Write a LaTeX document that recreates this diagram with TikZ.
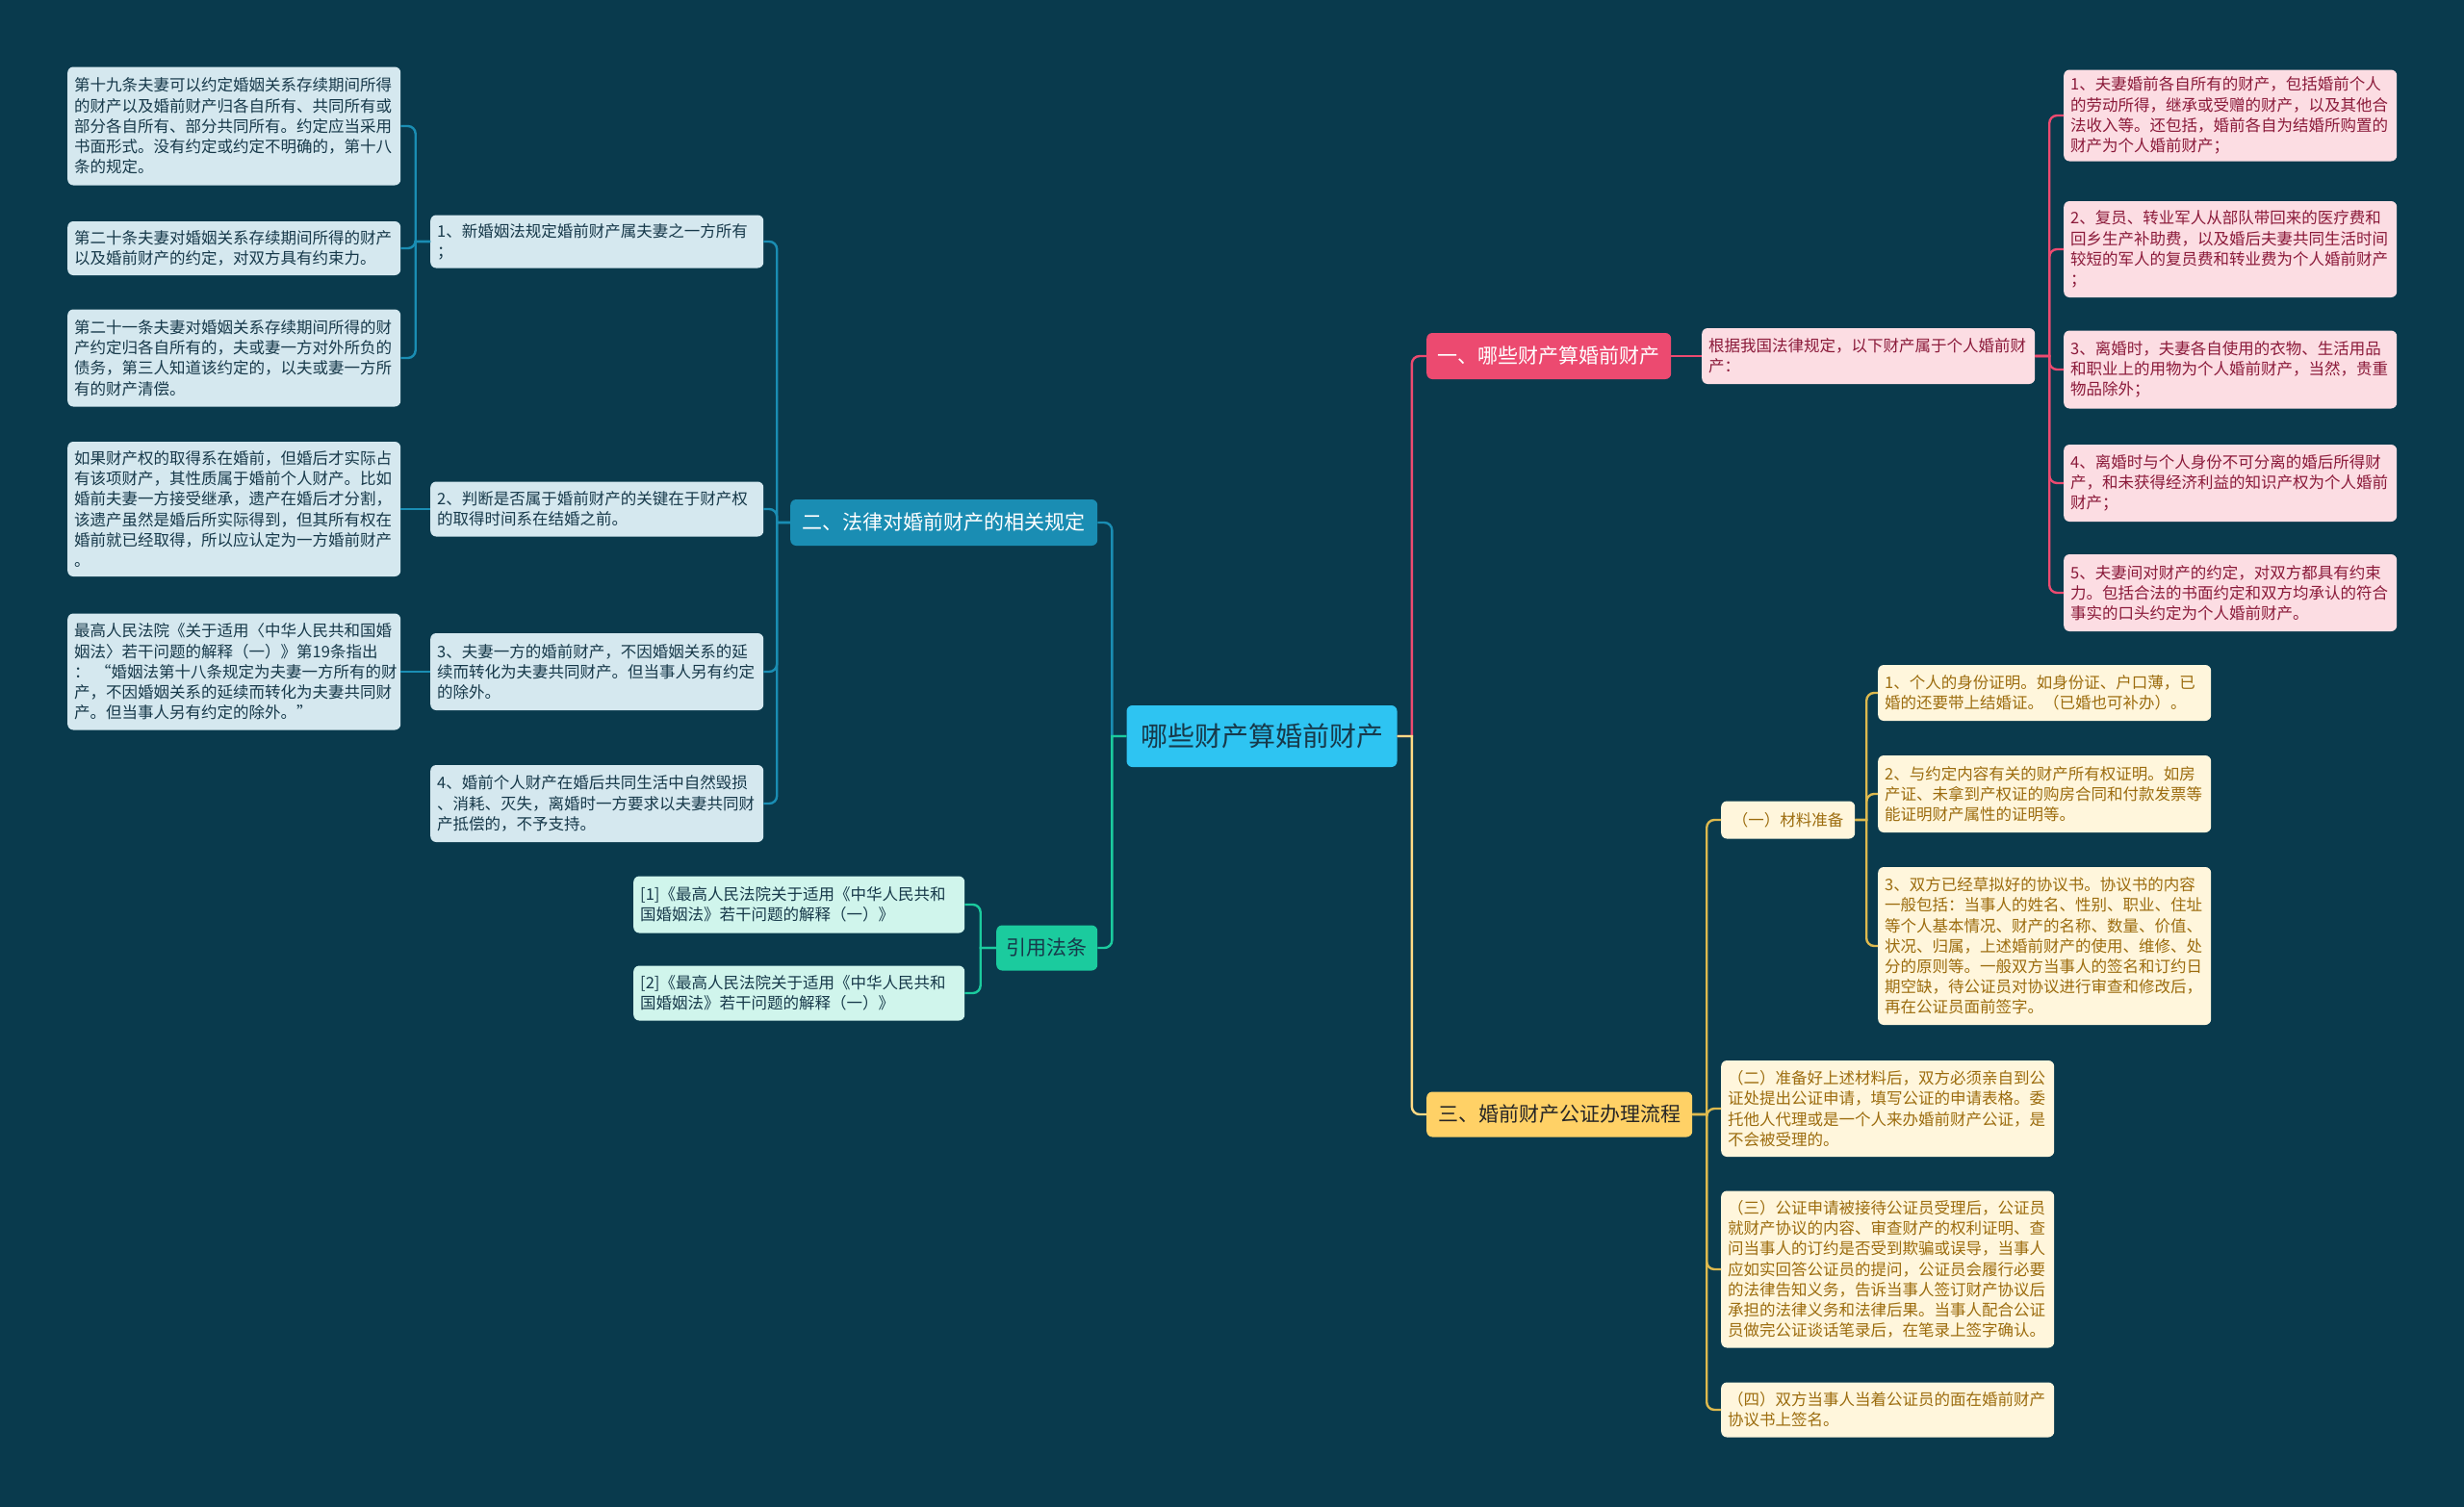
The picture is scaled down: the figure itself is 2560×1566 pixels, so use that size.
\documentclass[tikz,border=0pt]{standalone}
\usepackage{fontspec}
\newfontfamily\cjk{Noto Sans CJK SC}
\usetikzlibrary{calc}

\definecolor{bgcol}{HTML}{093A4D}
\definecolor{rootcol}{HTML}{2EC4F2}
\definecolor{redcol}{HTML}{EC4A70}
\definecolor{pinkcol}{HTML}{FCDDE3}
\definecolor{pinktext}{HTML}{8B1A3A}
\definecolor{bluecol}{HTML}{1A8DB3}
\definecolor{paleblue}{HTML}{D5E8EF}
\definecolor{darktext}{HTML}{17394A}
\definecolor{tealcol}{HTML}{1BCB9E}
\definecolor{mintcol}{HTML}{D0F5EC}
\definecolor{yellowcol}{HTML}{FFD166}
\definecolor{creamcol}{HTML}{FFF6DC}
\definecolor{goldtext}{HTML}{9C6C0E}
\definecolor{goldline}{HTML}{DDB94E}

\begin{document}
\begin{tikzpicture}[x=1pt, y=-1pt,
  box/.style={rounded corners=6pt, inner xsep=7pt, inner ysep=3pt, anchor=west,
    align=left, text width=332pt, font={\cjk\fontsize{16.5}{21.2}\selectfont}},
  pinkbox/.style={box, fill=pinkcol, text=pinktext},
  bluebox/.style={box, fill=paleblue, text=darktext},
  mintbox/.style={box, fill=mintcol, text=darktext},
  creambox/.style={box, fill=creamcol, text=goldtext},
  branch/.style={rounded corners=6pt, anchor=west, minimum height=48pt,
    font={\cjk\fontsize{21}{25}\selectfont}},
  conn/.style={line width=2.4pt},
  elbow/.style={to path={-| ($(\tikztostart)!.5!(\tikztotarget)$)
    [rounded corners=8pt] |- (\tikztotarget)}}]

% Background
\fill[bgcol] (0,0) rectangle (2560,1566);
\useasboundingbox (0,0) rectangle (2560,1566);

% Root
\node[rounded corners=6pt, fill=rootcol, text=darktext, minimum width=281pt, minimum height=64pt,
  font={\cjk\fontsize{28}{32}\selectfont}] (root) at (1311,765) {哪些财产算婚前财产};

% Branch one
\node[branch, fill=redcol, text=white, minimum width=254pt] (b1) at (1482,370) {一、哪些财产算婚前财产};
\node[pinkbox, minimum height=58pt] (law) at (1768,370) {根据我国法律规定，以下财产属于个人婚前财\\产：};
\node[pinkbox, minimum height=95pt] (p1) at (2144,120) {1、夫妻婚前各自所有的财产，包括婚前个人\\的劳动所得，继承或受赠的财产，以及其他合\\法收入等。还包括，婚前各自为结婚所购置的\\财产为个人婚前财产；};
\node[pinkbox, minimum height=100pt] (p2) at (2144,259) {2、复员、转业军人从部队带回来的医疗费和\\回乡生产补助费，以及婚后夫妻共同生活时间\\较短的军人的复员费和转业费为个人婚前财产\\；};
\node[pinkbox, minimum height=81pt] (p3) at (2144,384) {3、离婚时，夫妻各自使用的衣物、生活用品\\和职业上的用物为个人婚前财产，当然，贵重\\物品除外；};
\node[pinkbox, minimum height=80pt] (p4) at (2144,502) {4、离婚时与个人身份不可分离的婚后所得财\\产，和未获得经济利益的知识产权为个人婚前\\财产；};
\node[pinkbox, minimum height=80pt] (p5) at (2144,616) {5、夫妻间对财产的约定，对双方都具有约束\\力。包括合法的书面约定和双方均承认的符合\\事实的口头约定为个人婚前财产。};

% Branch three
\node[branch, fill=yellowcol, text=black!85, minimum width=276pt, minimum height=47pt] (b3) at (1482,1158) {三、婚前财产公证办理流程};
\node[rounded corners=6pt, anchor=west, fill=creamcol, text=goldtext, minimum width=139pt, minimum height=39pt,
  font={\cjk\fontsize{16.5}{21.2}\selectfont}] (prep) at (1788,852) {（一）材料准备};
\node[creambox, minimum height=58pt] (m1) at (1951,720) {1、个人的身份证明。如身份证、户口薄，已\\婚的还要带上结婚证。（已婚也可补办）。};
\node[creambox, minimum height=80pt] (m2) at (1951,825) {2、与约定内容有关的财产所有权证明。如房\\产证、未拿到产权证的购房合同和付款发票等\\能证明财产属性的证明等。};
\node[creambox, minimum height=164pt] (m3) at (1951,983) {3、双方已经草拟好的协议书。协议书的内容\\一般包括：当事人的姓名、性别、职业、住址\\等个人基本情况、财产的名称、数量、价值、\\状况、归属，上述婚前财产的使用、维修、处\\分的原则等。一般双方当事人的签名和订约日\\期空缺，待公证员对协议进行审查和修改后，\\再在公证员面前签字。};
\node[creambox, minimum height=100pt] (s2) at (1788,1152) {（二）准备好上述材料后，双方必须亲自到公\\证处提出公证申请，填写公证的申请表格。委\\托他人代理或是一个人来办婚前财产公证，是\\不会被受理的。};
\node[creambox, minimum height=163pt] (s3) at (1788,1319) {（三）公证申请被接待公证员受理后，公证员\\就财产协议的内容、审查财产的权利证明、查\\问当事人的订约是否受到欺骗或误导，当事人\\应如实回答公证员的提问，公证员会履行必要\\的法律告知义务，告诉当事人签订财产协议后\\承担的法律义务和法律后果。当事人配合公证\\员做完公证谈话笔录后，在笔录上签字确认。};
\node[creambox, minimum height=57pt] (s4) at (1788,1465) {（四）双方当事人当着公证员的面在婚前财产\\协议书上签名。};

% Branch two
\node[branch, fill=bluecol, text=white, minimum width=319pt] (b2) at (821,543) {二、法律对婚前财产的相关规定};
\node[bluebox, minimum height=55pt] (c1) at (447,251) {1、新婚姻法规定婚前财产属夫妻之一方所有\\；};
\node[bluebox, minimum height=57pt] (c2) at (447,529) {2、判断是否属于婚前财产的关键在于财产权\\的取得时间系在结婚之前。};
\node[bluebox, minimum height=80pt] (c3) at (447,698) {3、夫妻一方的婚前财产，不因婚姻关系的延\\续而转化为夫妻共同财产。但当事人另有约定\\的除外。};
\node[bluebox, minimum height=80pt] (c4) at (447,835) {4、婚前个人财产在婚后共同生活中自然毁损\\、消耗、灭失，离婚时一方要求以夫妻共同财\\产抵偿的，不予支持。};
\node[bluebox, minimum height=123pt] (a1) at (70,131) {第十九条夫妻可以约定婚姻关系存续期间所得\\的财产以及婚前财产归各自所有、共同所有或\\部分各自所有、部分共同所有。约定应当采用\\书面形式。没有约定或约定不明确的，第十八\\条的规定。};
\node[bluebox, minimum height=56pt] (a2) at (70,258) {第二十条夫妻对婚姻关系存续期间所得的财产\\以及婚前财产的约定，对双方具有约束力。};
\node[bluebox, minimum height=101pt] (a3) at (70,372) {第二十一条夫妻对婚姻关系存续期间所得的财\\产约定归各自所有的，夫或妻一方对外所负的\\债务，第三人知道该约定的，以夫或妻一方所\\有的财产清偿。};
\node[bluebox, minimum height=140pt] (d1) at (70,529) {如果财产权的取得系在婚前，但婚后才实际占\\有该项财产，其性质属于婚前个人财产。比如\\婚前夫妻一方接受继承，遗产在婚后才分割，\\该遗产虽然是婚后所实际得到，但其所有权在\\婚前就已经取得，所以应认定为一方婚前财产\\。};
\node[bluebox, minimum height=121pt] (e1) at (70,698) {最高人民法院《关于适用〈中华人民共和国婚\\姻法〉若干问题的解释（一）》第19条指出\\：~“婚姻法第十八条规定为夫妻一方所有的财\\产，不因婚姻关系的延续而转化为夫妻共同财\\产。但当事人另有约定的除外。”};

% Citations
\node[branch, fill=tealcol, text=darktext, minimum width=105pt, minimum height=47pt] (cite) at (1035,985) {引用法条};
\node[mintbox, minimum height=59pt, text width=330pt] (r1) at (658,940) {[1]《最高人民法院关于适用《中华人民共和\\国婚姻法》若干问题的解释（一）》};
\node[mintbox, minimum height=57pt, text width=330pt] (r2) at (658,1032) {[2]《最高人民法院关于适用《中华人民共和\\国婚姻法》若干问题的解释（一）》};

% Connectors
\draw[conn, redcol] (root.east) to[elbow] (b1.west);
\draw[conn, redcol] (b1.east) -- (law.west);
\foreach \n in {p1,p2,p3,p4,p5}
  \draw[conn, redcol] (law.east) to[elbow] (\n.west);
\draw[conn, yellowcol!80!white] (root.east) to[elbow] (b3.west);
\foreach \n in {prep,s2,s3,s4}
  \draw[conn, goldline] (b3.east) to[elbow] (\n.west);
\foreach \n in {m1,m2,m3}
  \draw[conn, goldline] (prep.east) to[elbow] (\n.west);
\draw[conn, bluecol] (root.west) to[elbow] (b2.east);
\foreach \n in {c1,c2,c3,c4}
  \draw[conn, bluecol] (b2.west) to[elbow] (\n.east);
\foreach \n in {a1,a2,a3}
  \draw[conn, bluecol] (c1.west) to[elbow] (\n.east);
\draw[conn, bluecol] (c2.west) -- (d1.east);
\draw[conn, bluecol] (c3.west) -- (e1.east);
\draw[conn, tealcol] (root.west) to[elbow] (cite.east);
\foreach \n in {r1,r2}
  \draw[conn, tealcol] (cite.west) to[elbow] (\n.east);

\end{tikzpicture}
\end{document}
